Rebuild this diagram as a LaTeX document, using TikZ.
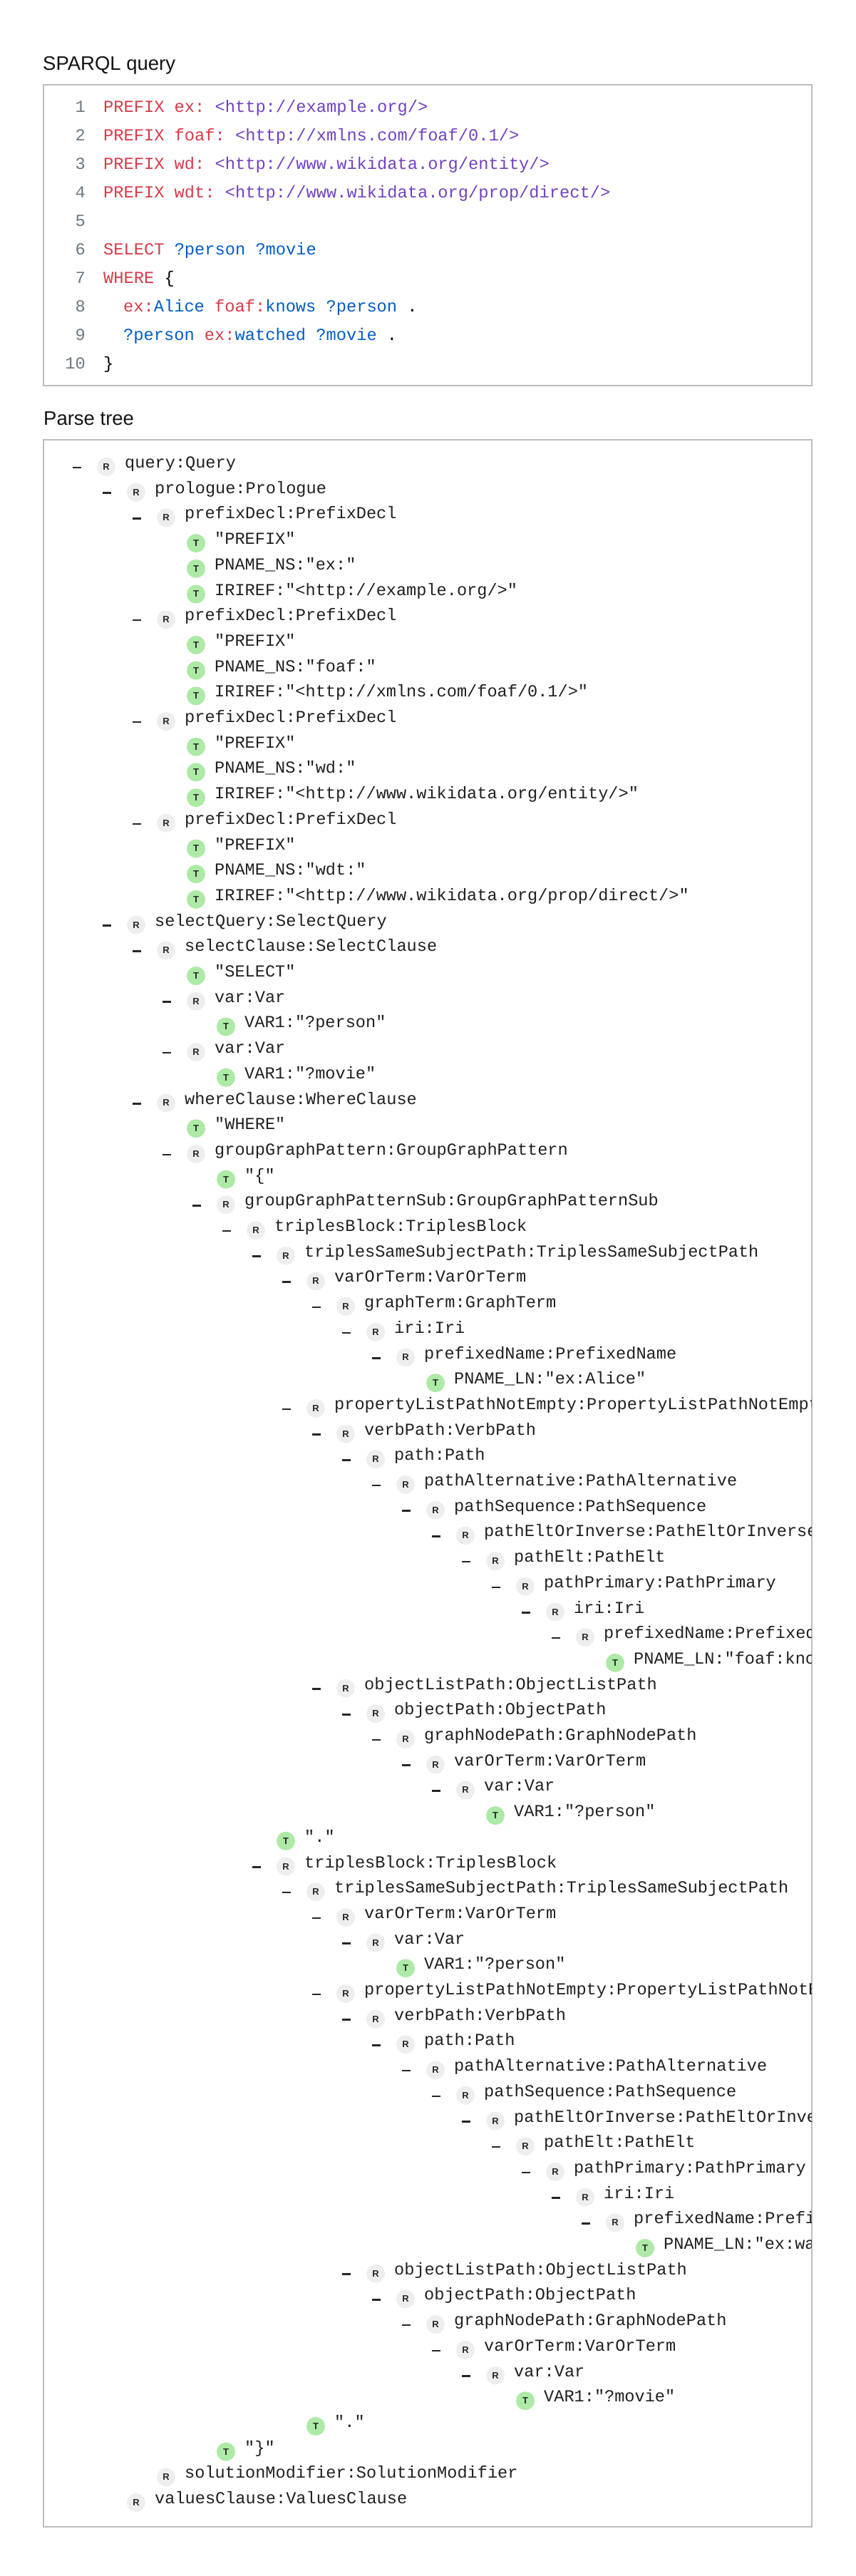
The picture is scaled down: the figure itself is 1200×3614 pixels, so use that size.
\documentclass[tikz,border=0pt]{standalone}
\usepackage{fontspec}
\setmainfont{Liberation Sans}
\setmonofont{Liberation Mono}
\usepackage{xcolor}
\usepackage{tikz}
\definecolor{SQLRed}{RGB}{215,58,73}
\definecolor{SQLBlue}{RGB}{0,92,197}
\definecolor{SQLPurple}{RGB}{111,66,193}
\definecolor{SQLGray}{RGB}{110,119,129}
\definecolor{PanelGray}{RGB}{189,189,189}

\begin{document}
\begin{tikzpicture}[x=1pt,y=-1pt]
	\definecolor{ruleFill}{RGB}{238,238,238}
	\definecolor{termFill}{RGB}{172,234,166}
	\tikzset{
		headnode/.style={anchor=base west, inner sep=0pt, font=\fontsize{27.5}{30}\selectfont, text=black!92},
		panel/.style={draw=PanelGray, line width=2pt},
		codenum/.style={anchor=base east, inner sep=0pt, font=\ttfamily\fontsize{23.7}{28}\selectfont, text=SQLGray},
		codeline/.style={anchor=base west, inner sep=0pt, font=\ttfamily\fontsize{23.7}{28}\selectfont, text=black},
		ptmark/.style={
			shape=circle,
			minimum size=26pt,
			inner sep=0pt,
			font=\bfseries\fontsize{13}{13}\selectfont,
			text=black!85
		},
		ptrule/.style={ptmark, fill=ruleFill},
		ptterm/.style={ptmark, fill=termFill},
		ptlabel/.style={anchor=base west, inner sep=0pt, font=\ttfamily\fontsize{23.6}{28}\selectfont, text=black!88},
		pttoggle/.style={draw=black!85, line width=2.5pt}
	}
	\useasboundingbox (0,0) rectangle (1200,3614);
	
	% Query text
	\node[headnode] (queryhead) at (60,98) {SPARQL query};
	\draw[panel] (61,119) rectangle (1139,541);
	\foreach \n in {1,...,10}
		\node[codenum] (num\n) at (120,{157+40*(\n-1)}) {\n};
	\node[codeline] (code1) at (145,157) {\textcolor{SQLRed}{PREFIX ex:} \textcolor{SQLPurple}{<http://example.org/>}};
	\node[codeline] (code2) at (145,197) {\textcolor{SQLRed}{PREFIX foaf:} \textcolor{SQLPurple}{<http://xmlns.com/foaf/0.1/>}};
	\node[codeline] (code3) at (145,237) {\textcolor{SQLRed}{PREFIX wd:} \textcolor{SQLPurple}{<http://www.wikidata.org/entity/>}};
	\node[codeline] (code4) at (145,277) {\textcolor{SQLRed}{PREFIX wdt:} \textcolor{SQLPurple}{<http://www.wikidata.org/prop/direct/>}};
	\node[codeline] (code6) at (145,357) {\textcolor{SQLRed}{SELECT} \textcolor{SQLBlue}{?person ?movie}};
	\node[codeline] (code7) at (145,397) {\textcolor{SQLRed}{WHERE} \{};
	\node[codeline] (code8) at (173,437) {\textcolor{SQLRed}{ex:}\textcolor{SQLBlue}{Alice} \textcolor{SQLRed}{foaf:}\textcolor{SQLBlue}{knows ?person} .};
	\node[codeline] (code9) at (173,477) {\textcolor{SQLBlue}{?person} \textcolor{SQLRed}{ex:}\textcolor{SQLBlue}{watched ?movie} .};
	\node[codeline] (code10) at (145,517) {\}};
	
	% Parse tree: depth / kind (a = rule with toggle, r = rule, t = token) / label
	\node[headnode] (treehead) at (61,596) {Parse tree};
	\draw[panel] (61,617) rectangle (1139,3545);
	\begin{scope}
		\clip (62,618) rectangle (1138,3544);
		\foreach \dep/\kind/\lbl [count=\i from 0] in {
			0/a/{query:Query},
			1/a/{prologue:Prologue},
			2/a/{prefixDecl:PrefixDecl},
			3/t/{"PREFIX"},
			3/t/{PNAME\_NS:"ex:"},
			3/t/{IRIREF:"<http://example.org/>"},
			2/a/{prefixDecl:PrefixDecl},
			3/t/{"PREFIX"},
			3/t/{PNAME\_NS:"foaf:"},
			3/t/{IRIREF:"<http://xmlns.com/foaf/0.1/>"},
			2/a/{prefixDecl:PrefixDecl},
			3/t/{"PREFIX"},
			3/t/{PNAME\_NS:"wd:"},
			3/t/{IRIREF:"<http://www.wikidata.org/entity/>"},
			2/a/{prefixDecl:PrefixDecl},
			3/t/{"PREFIX"},
			3/t/{PNAME\_NS:"wdt:"},
			3/t/{IRIREF:"<http://www.wikidata.org/prop/direct/>"},
			1/a/{selectQuery:SelectQuery},
			2/a/{selectClause:SelectClause},
			3/t/{"SELECT"},
			3/a/{var:Var},
			4/t/{VAR1:"?person"},
			3/a/{var:Var},
			4/t/{VAR1:"?movie"},
			2/a/{whereClause:WhereClause},
			3/t/{"WHERE"},
			3/a/{groupGraphPattern:GroupGraphPattern},
			4/t/{"\{"},
			4/a/{groupGraphPatternSub:GroupGraphPatternSub},
			5/a/{triplesBlock:TriplesBlock},
			6/a/{triplesSameSubjectPath:TriplesSameSubjectPath},
			7/a/{varOrTerm:VarOrTerm},
			8/a/{graphTerm:GraphTerm},
			9/a/{iri:Iri},
			10/a/{prefixedName:PrefixedName},
			11/t/{PNAME\_LN:"ex:Alice"},
			7/a/{propertyListPathNotEmpty:PropertyListPathNotEmpty},
			8/a/{verbPath:VerbPath},
			9/a/{path:Path},
			10/a/{pathAlternative:PathAlternative},
			11/a/{pathSequence:PathSequence},
			12/a/{pathEltOrInverse:PathEltOrInverse},
			13/a/{pathElt:PathElt},
			14/a/{pathPrimary:PathPrimary},
			15/a/{iri:Iri},
			16/a/{prefixedName:PrefixedName},
			17/t/{PNAME\_LN:"foaf:knows"},
			8/a/{objectListPath:ObjectListPath},
			9/a/{objectPath:ObjectPath},
			10/a/{graphNodePath:GraphNodePath},
			11/a/{varOrTerm:VarOrTerm},
			12/a/{var:Var},
			13/t/{VAR1:"?person"},
			6/t/{"."},
			6/a/{triplesBlock:TriplesBlock},
			7/a/{triplesSameSubjectPath:TriplesSameSubjectPath},
			8/a/{varOrTerm:VarOrTerm},
			9/a/{var:Var},
			10/t/{VAR1:"?person"},
			8/a/{propertyListPathNotEmpty:PropertyListPathNotEmpty},
			9/a/{verbPath:VerbPath},
			10/a/{path:Path},
			11/a/{pathAlternative:PathAlternative},
			12/a/{pathSequence:PathSequence},
			13/a/{pathEltOrInverse:PathEltOrInverse},
			14/a/{pathElt:PathElt},
			15/a/{pathPrimary:PathPrimary},
			16/a/{iri:Iri},
			17/a/{prefixedName:PrefixedName},
			18/t/{PNAME\_LN:"ex:watched"},
			9/a/{objectListPath:ObjectListPath},
			10/a/{objectPath:ObjectPath},
			11/a/{graphNodePath:GraphNodePath},
			12/a/{varOrTerm:VarOrTerm},
			13/a/{var:Var},
			14/t/{VAR1:"?movie"},
			7/t/{"."},
			4/t/{"\}"},
			2/r/{solutionModifier:SolutionModifier},
			1/r/{valuesClause:ValuesClause}
		}{
			\pgfmathsetmacro\cy{655+35.7*\i}
			\pgfmathsetmacro\cx{149+42*\dep}
			\if t\kind
				\node[ptterm] (mark\i) at (\cx,\cy) {T};
			\else
				\node[ptrule] (mark\i) at (\cx,\cy) {R};
			\fi
			\if a\kind
				\draw[pttoggle] ({\cx-47},{\cy+1}) -- ({\cx-35},{\cy+1});
			\fi
			\node[ptlabel] (label\i) at ({\cx+26},{\cy+1.5}) {\lbl};
		}
	\end{scope}
\end{tikzpicture}
\end{document}
